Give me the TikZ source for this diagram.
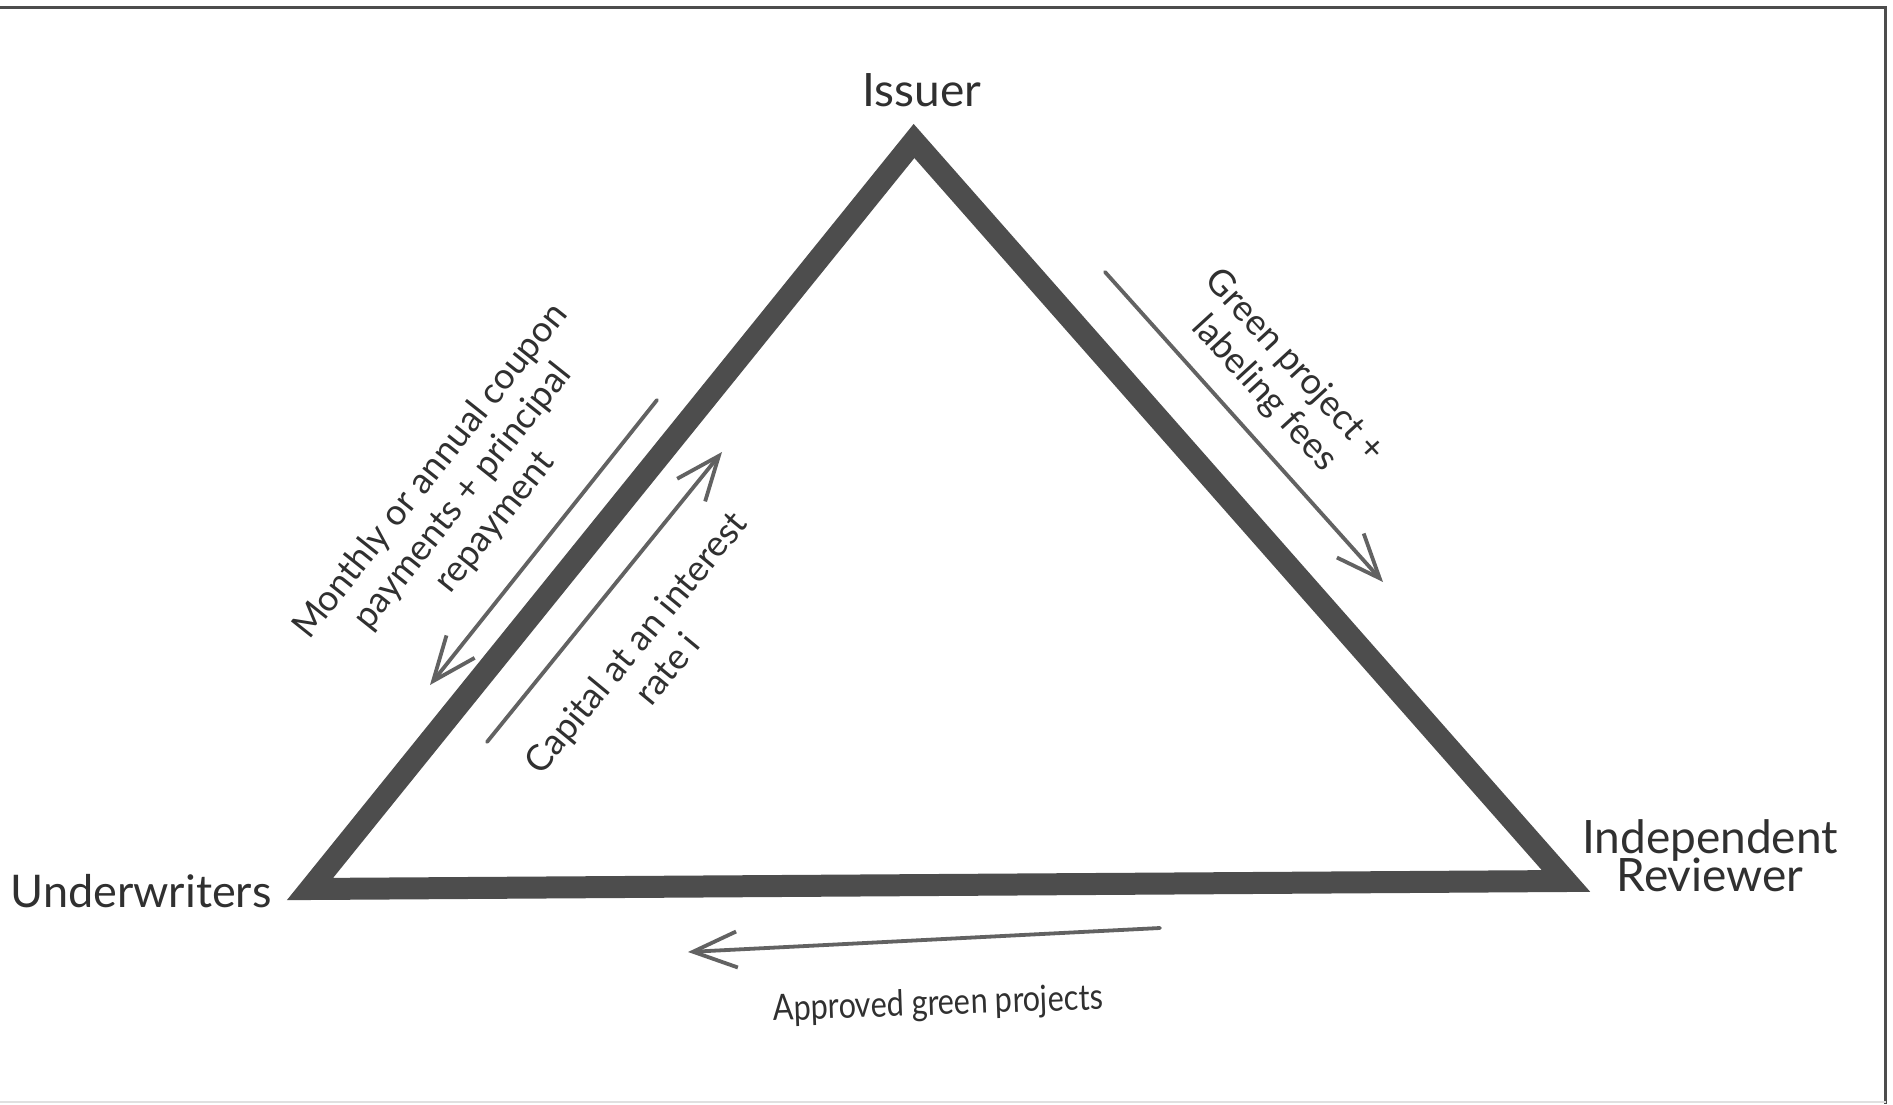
\documentclass[tikz,border=0pt]{standalone}
\usepackage{fontspec}
\setmainfont{Lato}
\usetikzlibrary{arrows.meta}
\definecolor{edge}{HTML}{4D4D4D}
\definecolor{flow}{HTML}{626262}
\definecolor{ink}{HTML}{303030}
\tikzset{
  flowarrow/.style={-{Straight Barb[length=22pt,width=18pt]}, line width=1.9pt, draw=flow, line cap=round},
  party/.style={font=\fontsize{23}{18.5}\selectfont, text=ink, align=center, inner sep=0pt},
  flowlabel/.style={font=\fontsize{18}{20.5}\selectfont, text=ink, align=center, inner sep=0pt},
}

\begin{document}
\begin{tikzpicture}[x=0.5pt, y=0.5pt]
  \useasboundingbox (0,0) rectangle (1893,1104);
  \fill[white] (0,0) rectangle (1893,1104);
  % frame
  \draw[line width=1.5pt, draw=edge] (0,1096.5) -- (1885.5,1096.5) -- (1885.5,0);
  \draw[line width=1pt, draw=black!12] (0,2) -- (1885.5,2);

  % the three parties
  \coordinate (I) at (914,963);
  \coordinate (U) at (310,215);
  \coordinate (R) at (1566,223);
  \draw[line width=11pt, draw=edge] (I) -- (U) -- (R) -- cycle;
  \node[party, anchor=base] (issuer) at (922,997) {Issuer};
  \node[party, anchor=base, font=\fontsize{22.5}{18.5}\selectfont] (under) at (141,197) {Underwriters};
  \node[party, anchor=base] (review) at (1710,213) {Independent\\[-3pt]Reviewer};

  % flows along the sides
  \coordinate (pay0) at (657,704);  \coordinate (pay1) at (430,419);
  \coordinate (cap0) at (487,362);  \coordinate (cap1) at (722,652);
  \coordinate (fee0) at (1105,832); \coordinate (fee1) at (1383,522);
  \coordinate (ok0) at (1160,176);  \coordinate (ok1) at (688,152);
  \draw[flowarrow] (pay0) -- (pay1);
  \draw[flowarrow] (cap0) -- (cap1);
  \draw[flowarrow] (fee0) -- (fee1);
  \draw[flowarrow] (ok0) -- (ok1);

  \node[flowlabel, rotate=51.5] (paylbl) at (463,607) {Monthly or annual coupon\\payments + principal\\repayment};
  \node[flowlabel, rotate=50.5] (caplbl) at (651,449) {Capital at an interest\\rate i};
  \node[flowlabel, rotate=-47.5] (feelbl) at (1279,724) {Green project +\\labeling fees};
  \node[flowlabel, rotate=2, xscale=0.85] (oklbl) at (938,99) {Approved green projects};
\end{tikzpicture}
\end{document}
